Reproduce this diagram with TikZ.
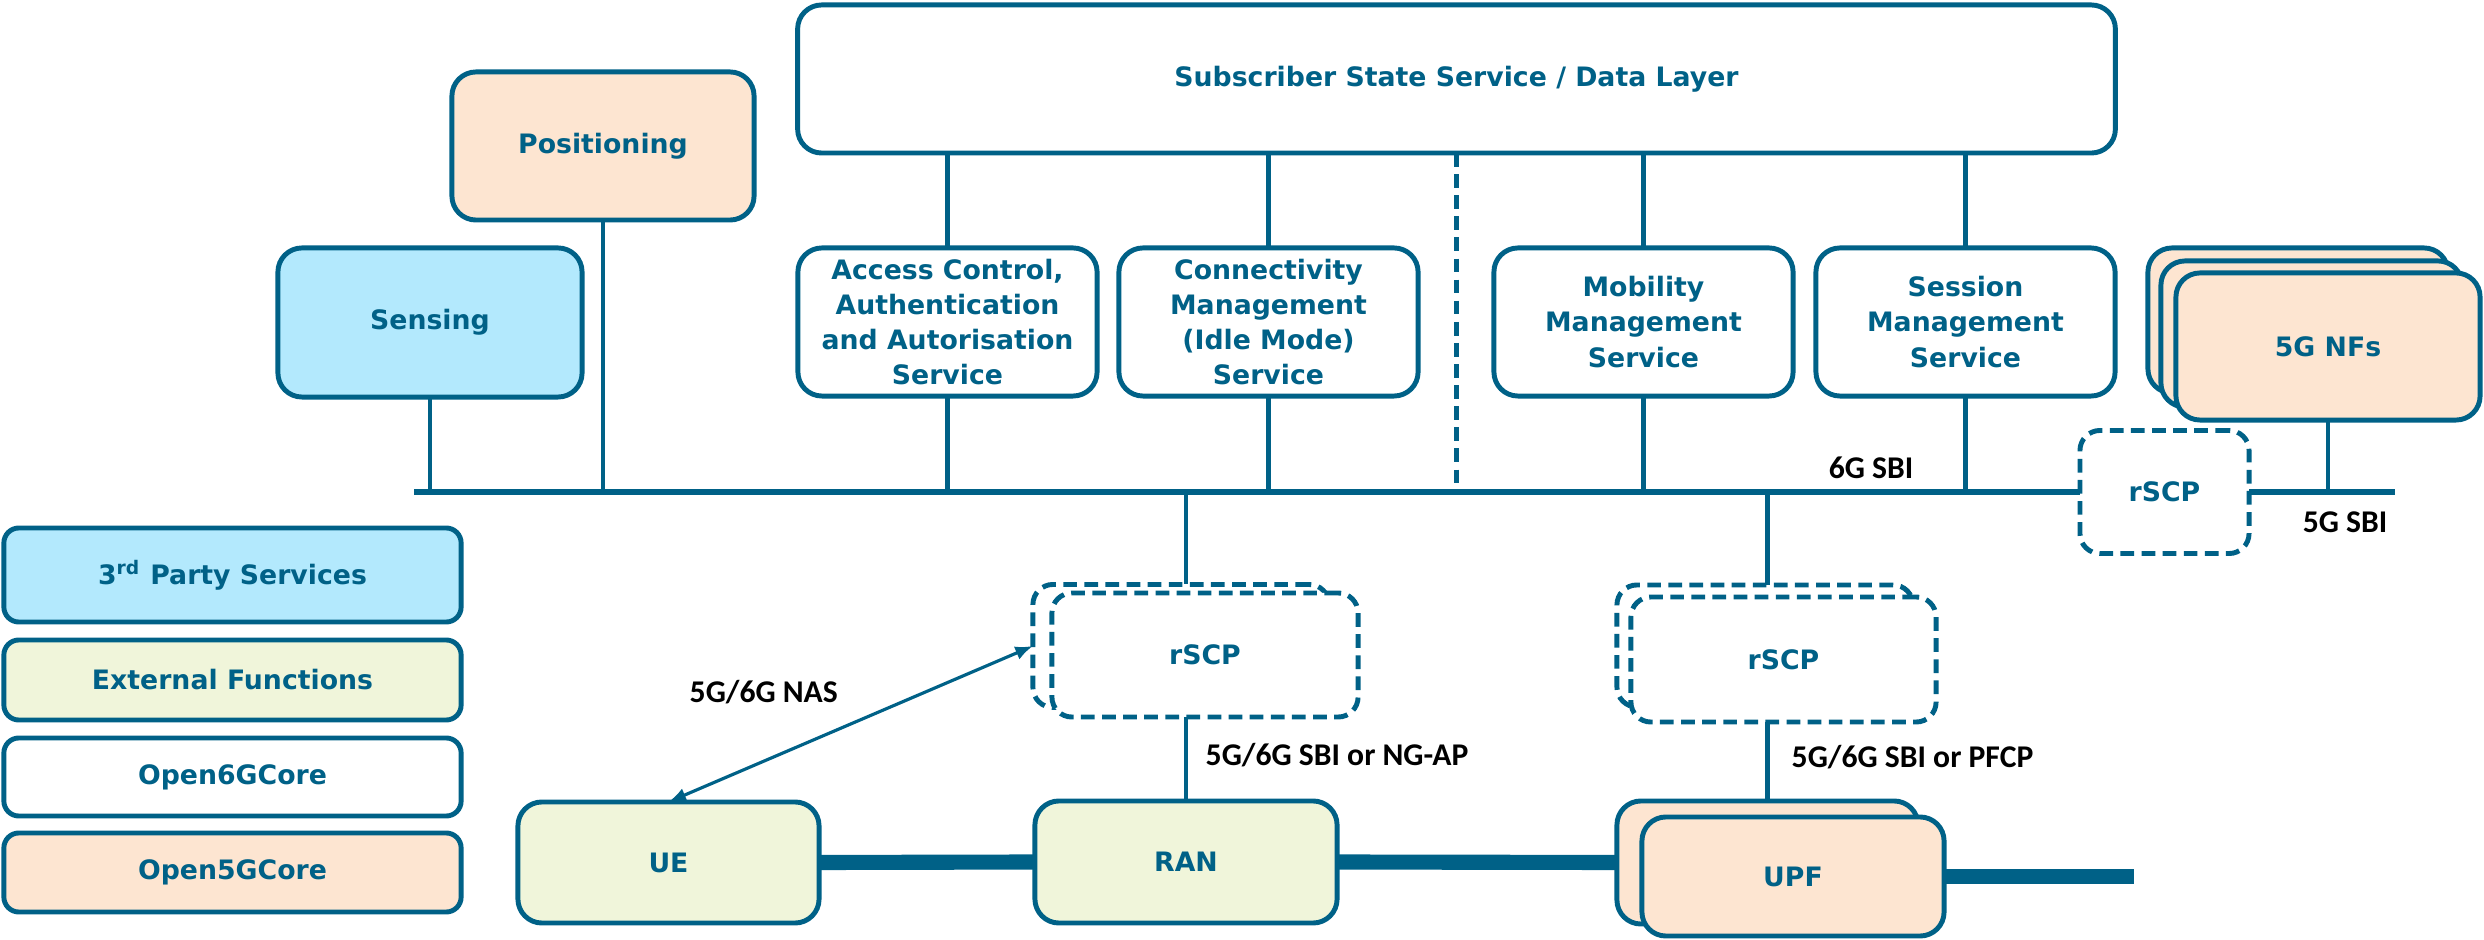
\documentclass[tikz,border=0pt]{standalone}
\usepackage{fontspec}
\setmainfont{DejaVu Sans}
\newfontfamily\labfont{Carlito}
\usetikzlibrary{arrows.meta}
\definecolor{ink}{HTML}{006187}
\definecolor{skyfill}{HTML}{B3E9FD}
\definecolor{limefill}{HTML}{F0F5DA}
\definecolor{peachfill}{HTML}{FDE5D1}
\begin{document}
\begin{tikzpicture}[x=0.01cm, y=-0.01cm,
  fbox/.style={draw=ink, line width=1.4pt, rounded corners=0.24cm, inner sep=0pt, outer sep=0pt,
    font=\fontsize{7.6}{10}\selectfont\bfseries, text=ink, align=center, fill=white},
  legbox/.style={fbox, rounded corners=0.15cm, minimum width=4.57cm},
  dbox/.style={fbox, rounded corners=0.2cm, dash pattern=on 3.9pt off 2.1pt},
  conn/.style={draw=ink, line width=1.35pt},
  busline/.style={draw=ink, line width=1.6pt},
  dataline/.style={draw=ink, line width=4.3pt},
  lab/.style={font=\labfont\fontsize{9}{10}\selectfont\bfseries, text=black, inner sep=0pt},
]
\useasboundingbox (0,0) rectangle (2484,940);

% control plane services
\node[fbox, minimum width=13.17cm, minimum height=1.48cm] (sub) at (1456.5,79) {Subscriber State Service / Data Layer};
\node[fbox, fill=peachfill, minimum width=3.02cm, minimum height=1.48cm] (pos) at (603,146) {Positioning};
\node[fbox, fill=skyfill, minimum width=3.04cm, minimum height=1.49cm] (sens) at (430,322.5) {Sensing};
\node[fbox, minimum width=2.99cm, minimum height=1.48cm] (acc) at (947.5,322) {Access Control,\\Authentication\\and Autorisation\\Service};
\node[fbox, minimum width=2.99cm, minimum height=1.48cm] (con) at (1268.5,322) {Connectivity\\Management\\(Idle Mode)\\Service};
\node[fbox, minimum width=2.99cm, minimum height=1.48cm] (mob) at (1643.5,322) {Mobility\\Management\\Service};
\node[fbox, minimum width=2.99cm, minimum height=1.48cm] (ses) at (1965.5,322) {Session\\Management\\Service};

% stacked 5G network functions
\node[fbox, fill=peachfill, minimum width=3.00cm, minimum height=1.45cm] (nf3) at (2298,320.5) {};
\node[fbox, fill=peachfill, minimum width=3.01cm, minimum height=1.46cm] (nf2) at (2311.5,334) {};
\node[fbox, fill=peachfill, minimum width=3.04cm, minimum height=1.47cm] (nf1) at (2328,346.5) {5G NFs};

% legend
\node[legbox, fill=skyfill, minimum height=0.94cm] (leg1) at (232.5,575) {3\textsuperscript{rd} Party Services};
\node[legbox, fill=limefill, minimum height=0.80cm] (leg2) at (232.5,680) {External Functions};
\node[legbox, minimum height=0.78cm] (leg3) at (232.5,777) {Open6GCore};
\node[legbox, fill=peachfill, minimum height=0.79cm] (leg4) at (232.5,872.5) {Open5GCore};

% bus coordinates
\coordinate (busL) at (414,492);
\coordinate (busR) at (2395,492);

% SCP towards the 5G side
\node[dbox, minimum width=1.69cm, minimum height=1.23cm] (rscpA) at (2164.5,492) {rSCP};

% access and user plane
\node[fbox, fill=limefill, minimum width=3.01cm, minimum height=1.21cm] (ue) at (668.5,862.5) {UE};
\node[fbox, fill=limefill, minimum width=3.02cm, minimum height=1.22cm] (ran) at (1186,862) {RAN};
\node[fbox, fill=peachfill, minimum width=3.01cm, minimum height=1.23cm] (upfb) at (1767.5,862.5) {};
\node[fbox, fill=peachfill, minimum width=3.02cm, minimum height=1.19cm] (upff) at (1793,876.5) {UPF};
\coordinate (dataEnd) at (2134,876.5);

\node[dbox, minimum width=2.96cm, minimum height=1.23cm] (rscp1b) at (1181,646) {};
\node[dbox, minimum width=3.06cm, minimum height=1.24cm] (rscp1f) at (1205,655) {rSCP};
\node[dbox, minimum width=2.96cm, minimum height=1.22cm] (rscp2b) at (1765,646) {};
\node[dbox, minimum width=3.05cm, minimum height=1.25cm] (rscp2f) at (1783.5,659.5) {rSCP};

% service based interface bus
\draw[busline] (busL) -- (rscpA.west);
\draw[busline] (rscpA.east) -- (busR);

\draw[conn] (sens.south) -- (sens.south |- busL);
\draw[conn] (pos.south) -- (pos.south |- busL);
\foreach \n in {acc,con,mob,ses}{
  \draw[conn] (\n.north |- sub.south) -- (\n.north);
  \draw[conn] (\n.south) -- (\n.south |- busL);
}
\draw[conn, dash pattern=on 3.9pt off 2.1pt] (sub.south) -- (sub.south |- busL);
\draw[conn] (nf1.south) -- (nf1.south |- busL);

\draw[conn] (ran.north |- busL) -- (ran.north |- rscp1b.north);
\draw[conn] (ran.north |- rscp1f.south) -- (ran.north);
\draw[conn] (upfb.north |- busL) -- (upfb.north |- rscp2b.north);
\draw[conn] (upfb.north |- rscp2f.south) -- (upfb.north);

% user plane path
\draw[dataline] (ue.east) -- (ran.west);
\draw[dataline] (ran.east) -- (upfb.west);
\draw[dataline] (upff.east) -- (dataEnd);

% NAS signalling
\draw[draw=ink, line width=0.9pt, {Latex[length=5pt,width=4pt]}-{Latex[length=5pt,width=4pt]}] (ue.north) -- (rscp1b.west);

% interface labels
\node[lab] (l6g) at (1871,468) {6G SBI};
\node[lab] (l5g) at (2345,522) {5G SBI};
\node[lab, anchor=west] (lnas) at (689,692) {5G/6G NAS};
\node[lab, anchor=west] (lngap) at (1205,755) {5G/6G SBI or NG-AP};
\node[lab, anchor=west] (lpfcp) at (1791,757) {5G/6G SBI or PFCP};
\end{tikzpicture}
\end{document}
